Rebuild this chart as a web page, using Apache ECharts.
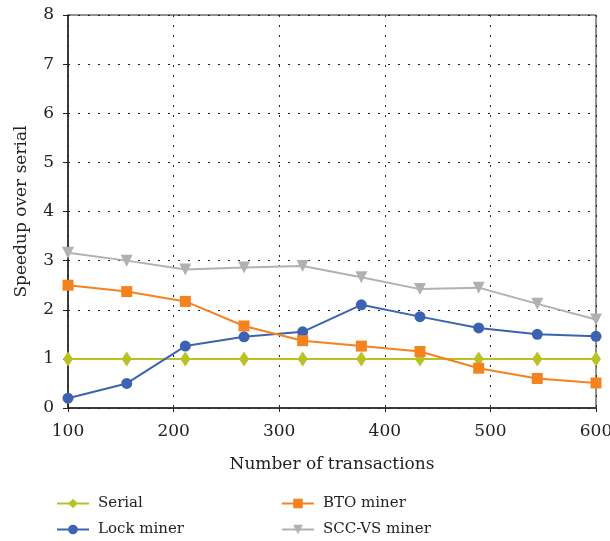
<!DOCTYPE html>
<html><head><meta charset="utf-8">
<script src="https://cdn.jsdelivr.net/npm/echarts@6/dist/echarts.min.js"></script>
<style>html,body{margin:0;padding:0;background:#fff}#c{width:610px;height:541px}</style>
</head><body><div id="c"></div>
<script>
const xValues = [100, 155.6, 211.1, 266.7, 322.2, 377.8, 433.3, 488.9, 544.4, 600];
const serial = [1, 1, 1, 1, 1, 1, 1, 1, 1, 1];
const lockMiner = [0.2, 0.5, 1.26, 1.45, 1.55, 2.1, 1.86, 1.63, 1.5, 1.46];
const btoMiner = [2.5, 2.37, 2.17, 1.67, 1.37, 1.26, 1.15, 0.81, 0.6, 0.51];
const sccMiner = [3.16, 3.0, 2.82, 2.86, 2.89, 2.66, 2.42, 2.45, 2.12, 1.8];
const xTicks = [100, 200, 300, 400, 500, 600];
const yTicks = [0, 1, 2, 3, 4, 5, 6, 7, 8];
const seriesNames = ['Serial', 'Lock miner', 'BTO miner', 'SCC-VS miner'];

const font = "'DejaVu Serif', 'Liberation Serif', serif";
const fs = 17;
const pair = arr => arr.map((v, i) => [xValues[i], v]);
const chart = echarts.init(document.getElementById('c'));
function mk(name, data, color, symbol, size, rot) {
  return {
    name, type: 'line', data: pair(data), symbol, symbolSize: size, symbolRotate: rot || 0,
    lineStyle: { color, width: 2 }, itemStyle: { color }, z: 3
  };
}
const legPos = [[56, 496], [56, 522], [281, 496], [281, 522]];
chart.setOption({
  animation: false,
  textStyle: { fontFamily: font },
  grid: { left: 68, right: 14, top: 15, bottom: 133, show: true, borderColor: '#222', borderWidth: 1,
    containLabel: false, outerBoundsMode: 'none' },
  xAxis: {
    type: 'value', min: 100, max: 600, interval: 100,
    name: 'Number of transactions', nameLocation: 'middle', nameGap: 48,
    nameTextStyle: { fontFamily: font, fontSize: fs, color: '#222' },
    axisLine: { show: true, onZero: false, lineStyle: { color: '#222', width: 1.5 } },
    axisTick: { show: true, length: 4, lineStyle: { color: '#222' } },
    axisLabel: { fontFamily: font, fontSize: fs, color: '#222', margin: 15,
      formatter: v => xTicks.includes(v) ? String(v) : '' },
    splitLine: { show: true, lineStyle: { color: '#222', type: [2, 8], width: 1 } }
  },
  yAxis: {
    type: 'value', min: 0, max: 8, interval: 1,
    name: 'Speedup over serial', nameLocation: 'middle', nameGap: 38,
    nameTextStyle: { fontFamily: font, fontSize: fs, color: '#222' },
    axisLine: { show: true, lineStyle: { color: '#222', width: 1.5 } },
    axisTick: { show: true, length: 5, lineStyle: { color: '#222' } },
    axisLabel: { fontFamily: font, fontSize: fs, color: '#222', margin: 14,
      formatter: v => yTicks.includes(v) ? String(v) : '' },
    splitLine: { show: true, lineStyle: { color: '#222', type: [2, 8], width: 1 } }
  },
  legend: seriesNames.map((n, i) => ({
    left: legPos[i][0], top: legPos[i][1], orient: 'horizontal', itemWidth: 32, itemHeight: 12,
    data: [n], padding: 0,
    textStyle: { fontFamily: font, fontSize: 15, color: '#222', padding: [0, 0, 0, 4] }
  })),
  series: [
    mk('Serial', serial, '#b8c225', 'diamond', [10, 15]),
    mk('Lock miner', lockMiner, '#3c63b1', 'circle', 11),
    mk('BTO miner', btoMiner, '#f4821f', 'rect', 11),
    mk('SCC-VS miner', sccMiner, '#b1b1b1', 'triangle', 12, 180)
  ]
});
</script></body></html>
